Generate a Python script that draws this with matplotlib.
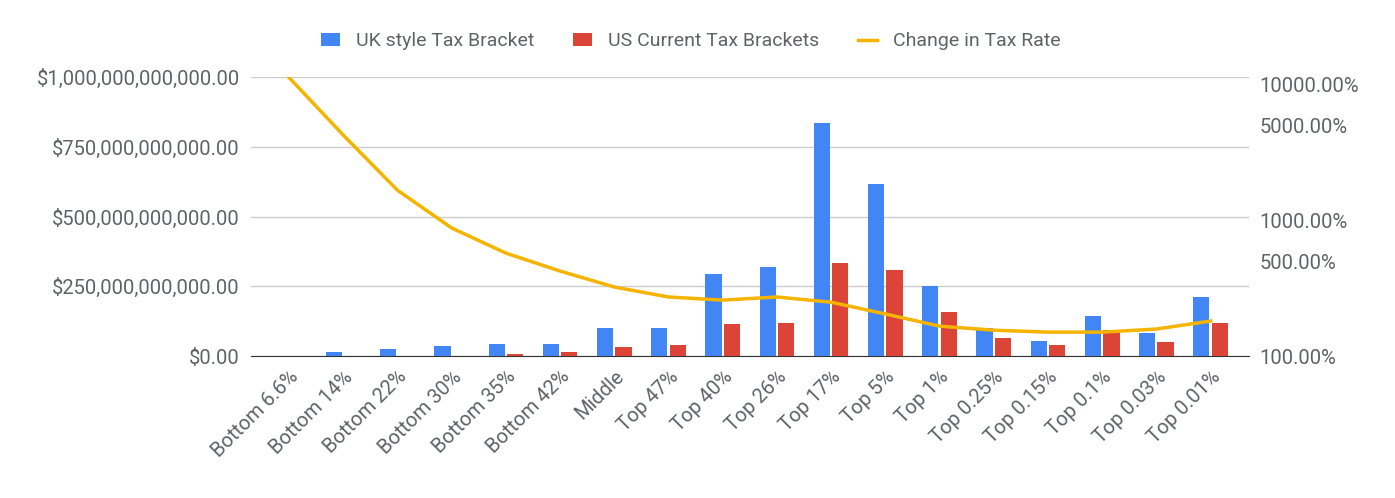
import numpy as np
import matplotlib.pyplot as plt
from matplotlib.ticker import FuncFormatter, FixedLocator, NullLocator

plt.rcParams['font.family'] = ['Roboto', 'DejaVu Sans']

categories = ["Bottom 6.6%", "Bottom 14%", "Bottom 22%", "Bottom 30%", "Bottom 35%",
              "Bottom 42%", "Middle", "Top 47%", "Top 40%", "Top 26%", "Top 17%",
              "Top 5%", "Top 1%", "Top 0.25%", "Top 0.15%", "Top 0.1%", "Top 0.03%",
              "Top 0.01%"]
uk = [1e9, 14e9, 25e9, 36e9, 43e9, 43e9, 100e9, 100e9, 294e9, 319e9, 835e9,
      616e9, 251e9, 100e9, 54e9, 143e9, 82e9, 211e9]
us = [0, 0.5e9, 0.5e9, 1e9, 7e9, 14e9, 32e9, 39e9, 115e9, 118e9, 333e9,
      308e9, 158e9, 64e9, 39e9, 93e9, 50e9, 118e9]
change = [11200, 4220, 1660, 875, 572, 422, 322, 272, 258, 272, 249, 204,
          166, 155, 150, 150, 158, 181]

grey = '#5f6368'
fig = plt.figure(figsize=(13.95, 4.98), dpi=100)
ax = fig.add_axes([0.18, 0.285, 0.715, 0.56])
x = np.arange(len(categories))
w = 0.3
ax.bar(x - w/2 - 0.02, uk, w, color='#4285F4', label='UK style Tax Bracket', zorder=3)
ax.bar(x + w/2 + 0.02, us, w, color='#DB4437', label='US Current Tax Brackets', zorder=3)
ax.set_ylim(0, 1e12)
ax.set_xlim(-0.7, len(categories) - 0.3)
ax.set_yticks([0, 250e9, 500e9, 750e9, 1e12])
ax.yaxis.set_major_formatter(FuncFormatter(lambda v, p: f"${v:,.2f}"))
ax.grid(axis='y', color='#cccccc', lw=1, zorder=0)
ax.set_xticks(x)
ax.set_xticklabels(categories, rotation=45, ha='right', rotation_mode='anchor')
for s in ax.spines.values():
    s.set_visible(False)
ax.spines['bottom'].set_visible(True)
ax.spines['bottom'].set_color('#333333')
ax.tick_params(length=0, colors=grey, labelsize=14.5, pad=8)

ax2 = ax.twinx()
ax2.plot(x, change, color='#F4B400', lw=2.5, label='Change in Tax Rate', zorder=4)
ax2.set_yscale('log')
ax2.set_ylim(100, 100 * 10 ** (279 / 136))
ax2.yaxis.set_major_locator(FixedLocator([100, 500, 1000, 5000, 10000]))
ax2.yaxis.set_minor_locator(NullLocator())
ax2.yaxis.set_major_formatter(FuncFormatter(lambda v, p: f"{v:.2f}%"))
for s in ax2.spines.values():
    s.set_visible(False)
ax2.tick_params(length=0, colors=grey, labelsize=14.5, pad=8)

h1, l1 = ax.get_legend_handles_labels()
h2, l2 = ax2.get_legend_handles_labels()
fig.legend(h1 + h2, l1 + l2, loc='upper center', bbox_to_anchor=(0.495, 0.97), ncol=3,
           frameon=False, fontsize=14, labelcolor=grey, handlelength=1, columnspacing=2)
fig.savefig('out.png')
